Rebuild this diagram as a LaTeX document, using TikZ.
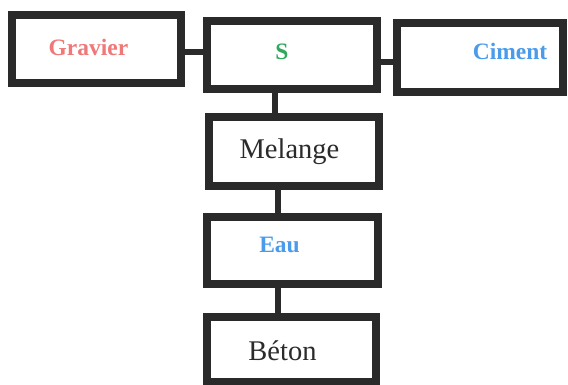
\documentclass[tikz,border=0pt]{standalone}
\usepackage{fontspec}
\setmainfont{Liberation Serif}
\usetikzlibrary{positioning, calc}
\definecolor{cFrame}  {HTML}{2A2A2A}
\definecolor{cGravier}{HTML}{F07878}
\definecolor{cSable}  {HTML}{2FA85C}
\definecolor{cBleu}   {HTML}{4A9CEB}
\definecolor{cTexte}  {HTML}{2B2B2B}

\begin{document}
\begin{tikzpicture}[x=1pt, y=-1pt,
    box/.style={draw=cFrame, line width=8pt, minimum width=170pt,
                minimum height=68pt, inner sep=0pt},
    link/.style={draw=cFrame, line width=6pt},
    tag/.style={font=\fontsize{23.5}{26}\selectfont\bfseries},
    plain/.style={font=\fontsize{28.5}{32}\selectfont, text=cTexte}]
  \useasboundingbox[fill=white] (0,0) rectangle (568,385);
  \clip (0,0) rectangle (568,385);

  % top row
  \node[box, minimum width=169pt,
        label={[tag, text=cGravier, xshift=-8pt, yshift=2pt]center:Gravier}]
       (gravier) at (96.5,49) {};
  \node[box,
        label={[tag, text=cSable, xshift=-10pt, yshift=3pt]center:S}]
       (sable) at (292,55) {};
  \node[box, minimum width=166pt, minimum height=69pt,
        label={[tag, text=cBleu, xshift=30pt, yshift=6pt]center:Ciment}]
       (ciment) at (480,57.5) {};

  % column
  \node[box, minimum height=69pt,
        label={[plain, xshift=-4pt]center:Melange}]
       (melange) at (293.5,151.5) {};
  \node[box, minimum width=171pt, minimum height=67pt,
        label={[tag, text=cBleu, xshift=-13pt, yshift=6pt]center:Eau}]
       (eau) at (292.5,250.5) {};
  \node[box, minimum width=169pt, minimum height=65pt,
        label={[plain, xshift=-9pt, yshift=-1pt]center:Béton}]
       (beton) at (291.5,349.5) {};

  % links
  \draw[link] ([yshift=-3pt]gravier.east) -- ([yshift=-3pt]gravier.east -| sable.west);
  \draw[link] ([yshift=-7pt]sable.east) -- ([yshift=-7pt]sable.east -| ciment.west);
  \draw[link] ([xshift=-17pt]sable.south) -- ([xshift=-17pt]sable.south |- melange.north);
  \draw[link] ([xshift=-15.5pt]melange.south) -- ([xshift=-15.5pt]melange.south |- eau.north);
  \draw[link] ([xshift=-14.5pt]eau.south) -- ([xshift=-14.5pt]eau.south |- beton.north);
\end{tikzpicture}
\end{document}
